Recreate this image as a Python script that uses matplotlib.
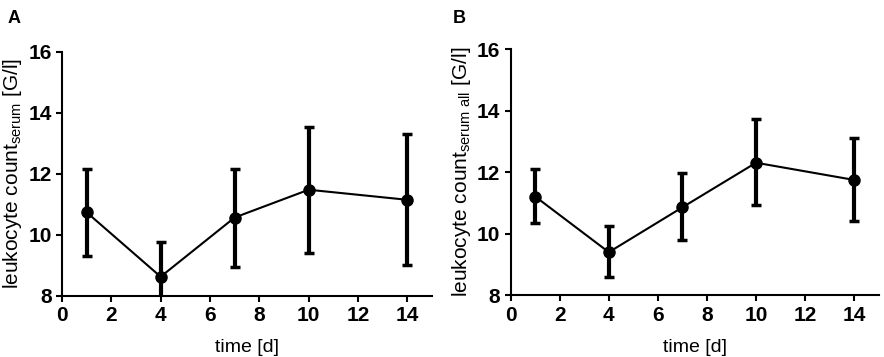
import matplotlib
matplotlib.use("Agg")
import matplotlib.pyplot as plt
import numpy as np

plt.rcParams['font.family'] = ['Liberation Sans', 'DejaVu Sans']
plt.rcParams['mathtext.fontset'] = 'custom'
plt.rcParams['mathtext.rm'] = 'Liberation Sans'

days = [1, 4, 7, 10, 14]

# panel A: serum
mean_a = [10.74, 8.63, 10.57, 11.48, 11.15]
upper_a = [12.16, 9.76, 12.16, 13.55, 13.30]
lower_a = [9.31, 7.50, 8.96, 9.40, 9.00]

# panel B: serum all
mean_b = [11.21, 9.40, 10.86, 12.31, 11.75]
upper_b = [12.10, 10.25, 11.97, 13.73, 13.13]
lower_b = [10.36, 8.59, 9.80, 10.94, 10.42]

xticks = [0, 2, 4, 6, 8, 10, 12, 14]
yticks = [8, 10, 12, 14, 16]

fig = plt.figure(figsize=(8.84, 3.57), dpi=100)
ax_a = fig.add_axes([0.0701, 0.171, 0.4186, 0.684])
ax_b = fig.add_axes([0.5777, 0.173, 0.4163, 0.689])

panels = [
    (ax_a, mean_a, upper_a, lower_a, r'leukocyte count$_{\mathrm{serum}}$ [G/l]', 'A'),
    (ax_b, mean_b, upper_b, lower_b, r'leukocyte count$_{\mathrm{serum\ all}}$ [G/l]', 'B'),
]

for ax, m, up, lo, ylab, letter in panels:
    m = np.array(m)
    err = [m - np.array(lo), np.array(up) - m]
    ax.errorbar(days, m, yerr=err, color='black', marker='o', markersize=8,
                linewidth=1.5, elinewidth=3, capsize=3.5, capthick=2.5)
    ax.set_xlim(0, 15)
    ax.set_ylim(8, 16)
    ax.set_xticks(xticks)
    ax.set_yticks(yticks)
    for s in ['top', 'right']:
        ax.spines[s].set_visible(False)
    for s in ['left', 'bottom']:
        ax.spines[s].set_linewidth(1.5)
    ax.tick_params(width=1.5, length=4, labelsize=15)
    for t in ax.get_xticklabels() + ax.get_yticklabels():
        t.set_fontweight('bold')
    ax.set_xlabel('time [d]', fontsize=14, labelpad=10)
    ax.set_ylabel(ylab, fontsize=15, labelpad=3)

fig.text(0.009, 0.935, 'A', fontsize=13, fontweight='bold')
fig.text(0.512, 0.935, 'B', fontsize=13, fontweight='bold')

fig.savefig('out.png', dpi=100)
